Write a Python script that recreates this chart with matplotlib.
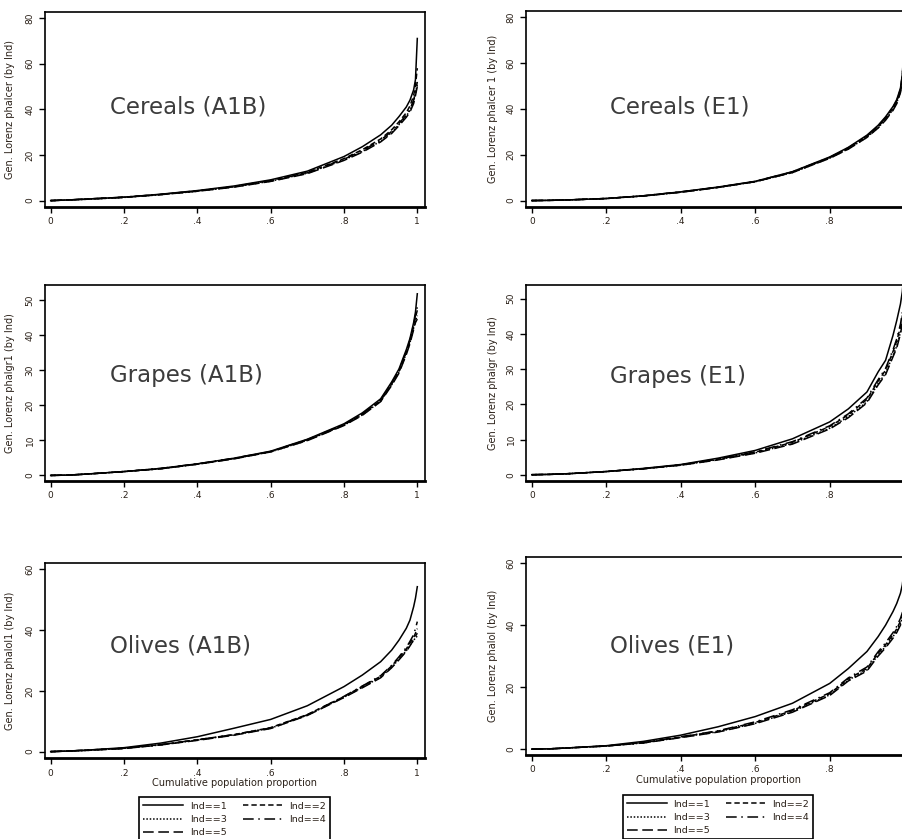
import matplotlib
matplotlib.use("Agg")
import matplotlib.pyplot as plt
from matplotlib.lines import Line2D

plt.rcParams['font.family'] = ['DejaVu Sans']

# proporcja populacji (os x) wspolna dla wszystkich krzywych
X = [0, .05, .1, .2, .3, .4, .5, .6, .7, .8, .85, .9, .93, .95, .97, .98, .99, .995, 1]

# Cereals (A1B)
CA_1 = [0, 0.3, 0.7, 1.5, 2.8, 4.4, 6.4, 9.1, 12.9, 19.3, 23.6, 28.8, 33.0, 36.8, 41.0, 44.0, 48.5, 53.0, 71.0]
CA_2 = [0, 0.3, 0.7, 1.5, 2.7, 4.3, 6.2, 8.8, 12.4, 18.4, 22.3, 27.0, 31.0, 34.5, 38.5, 41.5, 46.0, 50.5, 58.0]
CA_3 = [0, 0.3, 0.6, 1.4, 2.6, 4.1, 6.0, 8.5, 12.0, 17.8, 21.5, 26.0, 29.8, 33.3, 37.0, 39.5, 43.5, 47.0, 51.0]
CA_4 = [0, 0.3, 0.7, 1.5, 2.7, 4.2, 6.1, 8.7, 12.2, 18.1, 21.9, 26.5, 30.3, 33.8, 37.5, 40.0, 44.0, 47.5, 52.0]
CA_5 = [0, 0.3, 0.6, 1.4, 2.6, 4.1, 5.9, 8.4, 11.8, 17.6, 21.2, 25.7, 29.4, 32.8, 36.5, 38.8, 42.5, 46.0, 50.0]

# Cereals (E1)
CE_1 = [0, 0.1, 0.3, 0.9, 2.1, 3.8, 5.9, 8.4, 12.6, 19.0, 23.2, 28.5, 32.8, 36.5, 41.0, 44.0, 49.0, 55.0, 68.0]
CE_2 = [0, 0.1, 0.3, 0.9, 2.0, 3.7, 5.8, 8.3, 12.4, 18.7, 22.8, 28.0, 32.2, 35.8, 40.3, 43.2, 48.2, 54.0, 66.0]
CE_3 = [0, 0.1, 0.3, 0.9, 2.0, 3.7, 5.7, 8.2, 12.2, 18.5, 22.5, 27.6, 31.8, 35.3, 39.7, 42.6, 47.5, 53.0, 64.0]
CE_4 = [0, 0.1, 0.3, 0.9, 2.1, 3.8, 5.8, 8.3, 12.5, 18.8, 23.0, 28.2, 32.5, 36.1, 40.6, 43.5, 48.5, 54.5, 67.0]
CE_5 = [0, 0.1, 0.3, 0.9, 2.0, 3.6, 5.7, 8.2, 12.2, 18.4, 22.4, 27.5, 31.6, 35.0, 39.3, 42.2, 47.0, 52.5, 63.0]

# Grapes (A1B)
GA_1 = [0, 0.1, 0.4, 1.1, 2.0, 3.3, 4.9, 6.9, 10.3, 14.7, 17.8, 21.8, 26.6, 30.3, 35.8, 39.0, 43.5, 46.5, 51.7]
GA_2 = [0, 0.1, 0.4, 1.1, 1.9, 3.2, 4.8, 6.8, 10.1, 14.4, 17.4, 21.3, 26.0, 29.6, 35.0, 38.2, 42.5, 45.0, 47.0]
GA_3 = [0, 0.1, 0.4, 1.1, 1.9, 3.2, 4.8, 6.7, 10.0, 14.3, 17.2, 21.1, 25.8, 29.4, 34.7, 37.8, 42.0, 44.0, 45.5]
GA_4 = [0, 0.1, 0.4, 1.1, 2.0, 3.3, 4.9, 6.8, 10.2, 14.5, 17.5, 21.5, 26.2, 29.9, 35.3, 38.5, 43.0, 45.5, 48.0]
GA_5 = [0, 0.1, 0.4, 1.1, 1.9, 3.2, 4.7, 6.7, 9.9, 14.2, 17.1, 21.0, 25.6, 29.1, 34.4, 37.5, 41.5, 43.5, 44.5]

# Grapes (E1)
GE_1 = [0, 0.1, 0.3, 0.9, 1.8, 2.9, 4.7, 6.9, 10.2, 15.0, 18.7, 23.5, 29.2, 32.5, 39.6, 43.8, 48.5, 52.0, 58.0]
GE_2 = [0, 0.1, 0.3, 0.9, 1.7, 2.8, 4.4, 6.4, 9.2, 13.7, 17.0, 21.4, 26.6, 29.7, 35.0, 38.0, 42.0, 45.0, 50.0]
GE_3 = [0, 0.1, 0.3, 0.9, 1.7, 2.7, 4.3, 6.2, 8.9, 13.2, 16.5, 20.7, 25.9, 28.8, 34.0, 36.5, 40.5, 43.5, 48.0]
GE_4 = [0, 0.1, 0.3, 0.9, 1.7, 2.8, 4.5, 6.5, 9.4, 13.9, 17.3, 21.8, 27.0, 30.2, 35.5, 38.6, 42.8, 46.0, 51.0]
GE_5 = [0, 0.1, 0.3, 0.9, 1.7, 2.7, 4.2, 6.1, 8.7, 13.0, 16.2, 20.4, 25.5, 28.4, 33.5, 36.0, 40.0, 43.0, 47.0]

# Olives (A1B)
OA_1 = [0, 0.2, 0.5, 1.3, 2.8, 4.9, 7.7, 10.6, 15.1, 21.4, 25.2, 29.6, 33.4, 36.7, 40.6, 43.3, 47.7, 50.5, 54.3]
OA_2 = [0, 0.2, 0.5, 1.1, 2.3, 3.9, 5.6, 7.9, 12.2, 18.1, 21.5, 24.8, 28.2, 30.9, 33.8, 35.8, 37.5, 39.0, 40.5]
OA_3 = [0, 0.2, 0.4, 1.1, 2.2, 3.8, 5.5, 7.7, 12.0, 17.9, 21.2, 24.5, 27.8, 30.4, 33.2, 35.0, 36.6, 37.5, 38.0]
OA_4 = [0, 0.2, 0.5, 1.1, 2.3, 3.9, 5.6, 7.8, 12.1, 18.2, 21.6, 25.0, 28.4, 31.2, 34.3, 36.3, 38.5, 40.5, 42.8]
OA_5 = [0, 0.2, 0.4, 1.0, 2.2, 3.7, 5.4, 7.6, 11.9, 17.8, 21.0, 24.3, 27.6, 30.2, 33.0, 34.8, 36.8, 38.0, 39.0]

# Olives (E1)
OE_1 = [0, 0.1, 0.4, 1.1, 2.5, 4.5, 7.2, 10.5, 14.8, 21.2, 26.0, 31.5, 36.3, 40.0, 44.4, 47.0, 50.3, 53.0, 58.0]
OE_2 = [0, 0.1, 0.4, 1.0, 2.1, 3.9, 5.8, 8.6, 12.4, 17.9, 22.7, 26.0, 30.9, 33.7, 36.9, 38.8, 41.3, 43.0, 46.0]
OE_3 = [0, 0.1, 0.4, 1.0, 2.0, 3.8, 5.6, 8.3, 12.1, 17.5, 22.3, 25.5, 30.4, 33.1, 36.3, 38.2, 40.6, 42.0, 44.5]
OE_4 = [0, 0.1, 0.4, 1.0, 2.1, 4.0, 5.9, 8.8, 12.7, 18.2, 23.0, 26.5, 31.4, 34.3, 37.6, 39.6, 42.2, 44.0, 47.0]
OE_5 = [0, 0.1, 0.4, 1.0, 2.0, 3.7, 5.5, 8.2, 11.9, 17.3, 22.0, 25.2, 30.0, 32.7, 35.8, 37.6, 40.0, 41.5, 44.0]

IND_LABELS = ["Ind==1", "Ind==2", "Ind==3", "Ind==4", "Ind==5"]
X_TICKS = [0, .2, .4, .6, .8, 1]
X_TICKLABELS = ["0", ".2", ".4", ".6", ".8", "1"]

# style linii dla Ind==1..5 (jak w Stacie)
STYLES = ['-', (0, (3.5, 2)), (0, (1, 1.2)), (0, (7, 3, 1, 3)), (0, (7, 3))]
TXT = '#2a2018'

W, H = 903, 839
fig = plt.figure(figsize=(W / 100, H / 100), dpi=100)


def makeAxes(left, top, right, bottom):
    # pozycja w pikselach -> ulamki figury
    return fig.add_axes([left / W, 1 - bottom / H, (right - left) / W, (bottom - top) / H])


def panel(ax, series, title, tx, ty, ylim, yticks, ylabel, lpos, xlabel=False):
    for s, ls in zip(series, STYLES):
        ax.plot(X, s, color='black', lw=1.1, linestyle=ls)
    ax.set_xlim(-0.0155, 1.021)
    ax.set_ylim(*ylim)
    ax.set_xticks(X_TICKS)
    ax.set_xticklabels(X_TICKLABELS)
    ax.set_yticks(yticks)
    ax.set_yticklabels([str(v) for v in yticks], rotation=90, va='center')
    ax.tick_params(direction='out', length=4, width=1, labelsize=6.5, pad=3.5, colors='black', labelcolor=TXT)
    for sp in ax.spines.values():
        sp.set_linewidth(1.2)
    ax.spines['bottom'].set_linewidth(2)
    ax.set_ylabel(ylabel, fontsize=7, color=TXT)
    ax.yaxis.set_label_coords(lpos, 0.5)
    ax.text(tx, ty, title, fontsize=16.5, color='#3c3c3c', va='center', ha='left')
    if xlabel:
        ax.set_xlabel("Cumulative population proportion", fontsize=7, color=TXT, labelpad=0.5)


axs = [
    makeAxes(45, 12, 425, 207), makeAxes(526, 11, 912, 207),
    makeAxes(45, 285, 425, 480.7), makeAxes(526, 285, 912, 480.7),
    makeAxes(45, 563.3, 425, 758.3), makeAxes(526, 557.3, 912, 755),
]

panel(axs[0], [CA_1, CA_2, CA_3, CA_4, CA_5], "Cereals (A1B)", 0.162, 41, (-2.8, 82.6),
      [0, 20, 40, 60, 80], "Gen. Lorenz phalcer (by Ind)", -0.079)
panel(axs[1], [CE_1, CE_2, CE_3, CE_4, CE_5], "Cereals (E1)", 0.21, 40.7, (-2.8, 82.6),
      [0, 20, 40, 60, 80], "Gen. Lorenz phalcer 1 (by Ind)", -0.0725)
panel(axs[2], [GA_1, GA_2, GA_3, GA_4, GA_5], "Grapes (A1B)", 0.162, 28.4, (-1.5, 54.2),
      [0, 10, 20, 30, 40, 50], "Gen. Lorenz phalgr1 (by Ind)", -0.079)
panel(axs[3], [GE_1, GE_2, GE_3, GE_4, GE_5], "Grapes (E1)", 0.21, 27.9, (-1.7, 53.9),
      [0, 10, 20, 30, 40, 50], "Gen. Lorenz phalgr (by Ind)", -0.0725)
panel(axs[4], [OA_1, OA_2, OA_3, OA_4, OA_5], "Olives (A1B)", 0.162, 34.8, (-2.2, 62),
      [0, 20, 40, 60], "Gen. Lorenz phalol1 (by Ind)", -0.079, xlabel=True)
panel(axs[5], [OE_1, OE_2, OE_3, OE_4, OE_5], "Olives (E1)", 0.21, 33.3, (-1.9, 61.9),
      [0, 20, 40, 60], "Gen. Lorenz phalol (by Ind)", -0.0725, xlabel=True)

# legenda: wiersze Ind==1,2 / 3,4 / 5 -> kolejnosc kolumnowa 1,3,5,2,4
handles = [Line2D([], [], color='black', lw=1.1, linestyle=ls) for ls in STYLES]
order = [0, 2, 4, 1, 3]
for cx, top in [(234.5, 792.7), (718, 790.7)]:
    leg = fig.legend([handles[i] for i in order], [IND_LABELS[i] for i in order],
                     loc='upper center', bbox_to_anchor=(cx / W, 1 - top / H), ncol=2,
                     fontsize=6.8, handlelength=4.2, handletextpad=0.7, columnspacing=1.7,
                     labelspacing=0.45, fancybox=False, edgecolor='black', framealpha=1,
                     borderpad=0.45)
    leg.get_frame().set_linewidth(1.2)
    for t in leg.get_texts():
        t.set_color(TXT)

fig.savefig("out.png", dpi=100)
